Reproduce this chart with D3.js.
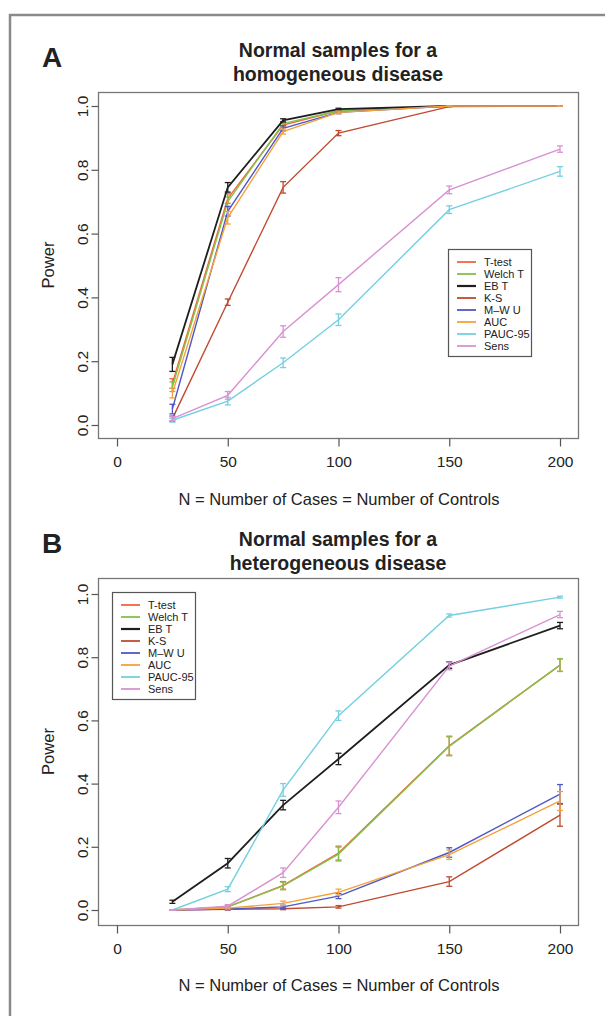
<!DOCTYPE html>
<html><head><meta charset="utf-8">
<script src="https://cdn.jsdelivr.net/npm/d3@7"></script>
<style>body{margin:0;background:#fff}svg{display:block}text{font-family:"Liberation Sans",Arial,sans-serif;fill:#222}</style>
</head><body>
<script>
// ---- data ----
const nValues = [25, 50, 75, 100, 150, 200];
const methods = ["T-test", "Welch T", "EB T", "K-S", "M\u2013W U", "AUC", "PAUC-95", "Sens"];
const methodColors = ["#f2653f", "#82c24a", "#1e1e1e", "#bf4a30", "#4f58c4", "#f6a03a", "#74d0e0", "#d892d2"];
const xTicks = [0, 50, 100, 150, 200];
const yTicks = [0, 0.2, 0.4, 0.6, 0.8, 1.0];

// Panel A: homogeneous disease
const powerA_Ttest = [0.13, 0.71, 0.94, 0.985, 1, 1];
const powerA_Welch = [0.12, 0.70, 0.945, 0.985, 1, 1];
const powerA_EBT   = [0.19, 0.745, 0.955, 0.99, 1, 1];
const powerA_KS    = [0.02, 0.385, 0.745, 0.915, 0.998, 1];
const powerA_MWU   = [0.05, 0.67, 0.93, 0.98, 1, 1];
const powerA_AUC   = [0.10, 0.65, 0.92, 0.98, 1, 1];
const powerA_PAUC  = [0.015, 0.075, 0.195, 0.33, 0.675, 0.795];
const powerA_Sens  = [0.02, 0.093, 0.293, 0.44, 0.737, 0.865];
const errA_Ttest = [0.015, 0.015, 0.006, 0.003, 0, 0];
const errA_Welch = [0.015, 0.015, 0.006, 0.003, 0, 0];
const errA_EBT   = [0.022, 0.015, 0.005, 0.003, 0, 0];
const errA_KS    = [0.008, 0.01, 0.018, 0.008, 0, 0];
const errA_MWU   = [0.015, 0.015, 0.008, 0.004, 0, 0];
const errA_AUC   = [0.015, 0.02, 0.008, 0.004, 0, 0];
const errA_PAUC  = [0.006, 0.012, 0.015, 0.018, 0.012, 0.015];
const errA_Sens  = [0.006, 0.012, 0.018, 0.022, 0.012, 0.01];

// Panel B: heterogeneous disease
const powerB_Ttest = [0, 0.01, 0.078, 0.18, 0.52, 0.775];
const powerB_Welch = [0, 0.01, 0.076, 0.177, 0.518, 0.775];
const powerB_EBT   = [0.026, 0.148, 0.332, 0.478, 0.775, 0.90];
const powerB_KS    = [0, 0.002, 0.004, 0.01, 0.09, 0.30];
const powerB_MWU   = [0, 0.003, 0.01, 0.044, 0.182, 0.367];
const powerB_AUC   = [0, 0.006, 0.021, 0.056, 0.175, 0.345];
const powerB_PAUC  = [0, 0.066, 0.38, 0.615, 0.932, 0.99];
const powerB_Sens  = [0, 0.012, 0.118, 0.325, 0.772, 0.935];
const errB_Ttest = [0, 0.003, 0.012, 0.022, 0.03, 0.02];
const errB_Welch = [0, 0.003, 0.012, 0.022, 0.03, 0.02];
const errB_EBT   = [0.005, 0.015, 0.015, 0.018, 0.01, 0.01];
const errB_KS    = [0, 0.002, 0.003, 0.004, 0.015, 0.035];
const errB_MWU   = [0, 0.002, 0.005, 0.008, 0.015, 0.03];
const errB_AUC   = [0, 0.003, 0.007, 0.01, 0.015, 0.03];
const errB_PAUC  = [0, 0.008, 0.02, 0.015, 0.005, 0.003];
const errB_Sens  = [0, 0.005, 0.015, 0.02, 0.012, 0.01];

const panelA = {
  letter: "A", title: ["Normal samples for a", "homogeneous disease"],
  values: [powerA_Ttest, powerA_Welch, powerA_EBT, powerA_KS, powerA_MWU, powerA_AUC, powerA_PAUC, powerA_Sens],
  errors: [errA_Ttest, errA_Welch, errA_EBT, errA_KS, errA_MWU, errA_AUC, errA_PAUC, errA_Sens]
};
const panelB = {
  letter: "B", title: ["Normal samples for a", "heterogeneous disease"],
  values: [powerB_Ttest, powerB_Welch, powerB_EBT, powerB_KS, powerB_MWU, powerB_AUC, powerB_PAUC, powerB_Sens],
  errors: [errB_Ttest, errB_Welch, errB_EBT, errB_KS, errB_MWU, errB_AUC, errB_PAUC, errB_Sens]
};

// ---- drawing ----
const W = 605, H = 1016;
const svg = d3.select("body").append("svg").attr("width", W).attr("height", H);

// outer figure frame
svg.append("path").attr("d", `M10,${H} L10,15 L${W},15`).attr("fill", "none")
  .attr("stroke", "#8a8a8a").attr("stroke-width", 2.5);

function drawPanel(p, lay) {
  const x = d3.scaleLinear().domain([0, 200]).range([117, 560]);
  const y = d3.scaleLinear().domain([0, 1]).range([lay.y0, lay.y1]);
  const g = svg.append("g");

  g.append("text").attr("x", 42).attr("y", lay.letterY).attr("font-size", 28)
    .attr("font-weight", "bold").text(p.letter);
  p.title.forEach((t, i) => g.append("text").attr("x", 338).attr("y", lay.titleY + i * 23.5)
    .attr("text-anchor", "middle").attr("font-size", 19.5).attr("font-weight", "bold").text(t));

  // plot frame
  g.append("rect").attr("x", 98.5).attr("y", lay.top + 0.5).attr("width", 480)
    .attr("height", lay.bottom - lay.top).attr("fill", "none").attr("stroke", "#777").attr("stroke-width", 1.3);

  // x axis
  const xa = g.append("g").attr("transform", `translate(0,${lay.bottom + 0.5})`)
    .call(d3.axisBottom(x).tickValues(xTicks).tickSize(8).tickPadding(9).tickFormat(d3.format("d")));
  xa.select(".domain").remove();
  xa.selectAll("line").attr("stroke", "#555").attr("stroke-width", 1.2);
  xa.selectAll("text").attr("font-size", 15.5).attr("fill", "#222").attr("font-family", "Liberation Sans, Arial, sans-serif");

  // y axis
  const ya = g.append("g").attr("transform", `translate(98.5,0)`)
    .call(d3.axisLeft(y).tickValues(yTicks).tickSize(7).tickFormat(d3.format(".1f")));
  ya.select(".domain").remove();
  ya.selectAll("line").attr("stroke", "#555").attr("stroke-width", 1.2);
  ya.selectAll("text").attr("font-size", 15.5).attr("fill", "#222").attr("font-family", "Liberation Sans, Arial, sans-serif")
    .attr("x", null).attr("dy", null).attr("text-anchor", "middle")
    .attr("transform", "translate(-11,0) rotate(-90)").attr("dy", "0em");

  g.append("text").attr("transform", `translate(${lay.powerX},${(lay.top + lay.bottom) / 2}) rotate(-90)`)
    .attr("text-anchor", "middle").attr("font-size", 16.5).text("Power");
  g.append("text").attr("x", 339).attr("y", lay.xTitleY).attr("text-anchor", "middle")
    .attr("font-size", 16.5).text("N = Number of Cases = Number of Controls");

  const line = d3.line().x((d, i) => x(nValues[i])).y(d => y(d));
  p.values.forEach((vals, k) => {
    const col = methodColors[k];
    const sw = k === 2 ? 1.8 : 1.4;
    g.append("path").datum(vals).attr("d", line).attr("fill", "none").attr("stroke", col).attr("stroke-width", sw);
    const errs = p.errors[k];
    vals.forEach((v, i) => {
      const cx = x(nValues[i]);
      const lo = y(Math.max(0, v - errs[i])), hi = y(v + errs[i]);
      const eb = g.append("g").attr("stroke", col).attr("stroke-width", 1.3);
      eb.append("line").attr("x1", cx).attr("x2", cx).attr("y1", lo).attr("y2", hi);
      eb.append("line").attr("x1", cx - 3).attr("x2", cx + 3).attr("y1", lo).attr("y2", lo);
      eb.append("line").attr("x1", cx - 3).attr("x2", cx + 3).attr("y1", hi).attr("y2", hi);
    });
  });

  // legend
  const lg = g.append("g").attr("transform", `translate(${lay.legX},${lay.legY})`);
  lg.append("rect").attr("x", 0.5).attr("y", 0.5).attr("width", 83).attr("height", 107)
    .attr("fill", "#fff").attr("stroke", "#555").attr("stroke-width", 1.2);
  methods.forEach((m, k) => {
    const yy = 13 + k * 12;
    lg.append("line").attr("x1", 9).attr("x2", 28).attr("y1", yy).attr("y2", yy)
      .attr("stroke", methodColors[k]).attr("stroke-width", k === 2 ? 2.2 : 1.8);
    lg.append("text").attr("x", 36).attr("y", yy + 4).attr("font-size", 11).text(m);
  });
}

drawPanel(panelA, { top: 92, bottom: 438, y0: 425, y1: 106, letterY: 67, titleY: 57,
  powerX: 54, xTitleY: 505, legX: 448, legY: 249 });
drawPanel(panelB, { top: 578, bottom: 925, y0: 910, y1: 594, letterY: 553, titleY: 546,
  powerX: 54, xTitleY: 991, legX: 112, legY: 592 });
</script>
</body></html>
